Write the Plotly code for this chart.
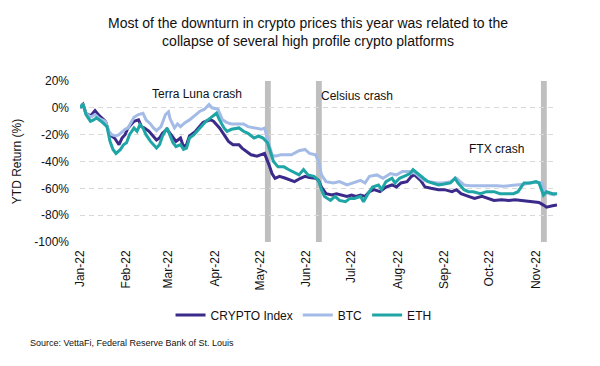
import pandas as pd
import plotly.graph_objects as go

start = pd.Timestamp("2022-01-01")

# Day offsets from 1 Jan 2022 and YTD return (%)
btc_days = [0, 2, 4, 7, 10, 13, 17, 19, 21, 24, 26, 30, 32, 36, 39, 42, 44, 47, 49, 51, 54, 57, 59, 60, 63, 65, 67, 70, 73, 77, 80, 83, 86, 88, 90, 92, 95, 98, 101, 106, 109, 112, 117, 121, 123, 126, 128, 130, 134, 141, 146, 150, 153, 157, 159, 161, 164, 169, 173, 178, 182, 187, 190, 193, 198, 202, 207, 211, 215, 220, 224, 229, 233, 238, 242, 247, 251, 256, 260, 264, 269, 273, 278, 282, 287, 291, 296, 300, 304, 308, 310, 313, 317]
btc_vals = [0, 2, -4, -7, -5, -8, -10, -17, -20, -21, -20, -16, -15, -7, -5, -4, -9, -12, -15, -17, -14, -5, -3, -8, -15, -12, -14, -11, -9, -5, -2.5, -1, 2.5, 0, -0.5, -1, -9, -11, -12, -12, -12, -14, -15, -16, -15, -26, -35, -36, -35, -35, -32, -31, -34, -35, -40, -50, -55, -56, -55, -57.5, -56, -54, -56, -51, -50, -52.5, -49, -50, -47.5, -47.5, -49, -54, -55, -56, -56, -55, -52.5, -57.5, -58, -58, -57.5, -58, -58, -58.5, -58, -57.5, -57, -56, -55.5, -56, -62.5, -64, -65]

eth_days = [0, 2, 4, 7, 9, 11, 14, 18, 20, 22, 24, 27, 29, 31, 33, 36, 38, 40, 42, 44, 47, 49, 51, 53, 55, 58, 60, 62, 64, 67, 69, 71, 73, 76, 78, 80, 82, 84, 87, 89, 91, 93, 96, 98, 101, 106, 109, 112, 116, 119, 122, 125, 127, 129, 132, 136, 139, 142, 146, 149, 152, 156, 159, 161, 163, 167, 170, 173, 177, 180, 183, 187, 189, 192, 195, 199, 201, 204, 208, 210, 213, 216, 220, 222, 225, 229, 232, 235, 239, 242, 247, 250, 252, 256, 259, 262, 267, 271, 276, 280, 284, 289, 292, 296, 300, 304, 306, 309, 311, 315, 318]
eth_vals = [0, 3, -5, -10, -9, -7.5, -10, -14, -25, -31, -34, -31, -27.5, -26, -20, -15, -17.5, -12.5, -15, -20, -25, -27.5, -30, -27.5, -21, -15, -20, -26, -29, -27.5, -31, -30, -22.5, -20, -17.5, -15, -12.5, -10, -7.5, -6, -4, -9, -15, -17.5, -16, -15, -17.5, -19, -22.5, -21, -22.5, -26, -34, -40, -44, -44, -46, -47.5, -50, -46, -50, -51, -54, -61, -66, -69, -66, -69, -70, -67.5, -67.5, -66, -70, -64, -59, -57.5, -61, -55, -52.5, -56, -52.5, -51, -49, -46, -49, -52.5, -55, -56, -57.5, -57, -56, -52.5, -56, -61, -62.5, -62.5, -64, -62.5, -62.5, -64, -64, -64, -62.5, -56, -56, -55, -56, -65, -62.5, -64, -64]

crypto_days = [0, 2, 4, 7, 10, 13, 17, 19, 21, 23, 26, 28, 30, 32, 36, 39, 41, 43, 46, 49, 51, 53, 55, 58, 61, 64, 67, 69, 71, 73, 77, 80, 82, 84, 87, 89, 91, 93, 96, 99, 102, 106, 108, 111, 114, 118, 121, 123, 126, 128, 130, 133, 137, 140, 143, 147, 150, 153, 157, 159, 161, 164, 168, 171, 175, 178, 181, 184, 187, 190, 193, 196, 200, 204, 208, 211, 214, 218, 221, 223, 227, 230, 234, 239, 243, 248, 251, 254, 259, 263, 268, 272, 276, 281, 286, 290, 294, 299, 302, 306, 309, 311, 315, 318]
crypto_vals = [0, 2.5, -4, -6, -2, -6, -10, -17.5, -21, -22.5, -27.5, -22.5, -20, -15, -10, -9, -14, -15, -17.5, -21, -24, -22.5, -19, -16, -21, -25, -22.5, -29, -27.5, -21, -17.5, -14, -11, -10, -9, -10, -12.5, -15, -20, -25, -27.5, -27.5, -30, -32.5, -35, -36, -35, -34, -42.5, -49, -52.5, -51, -52.5, -54, -55, -52.5, -51, -52, -52.5, -54, -59, -64, -65, -64, -65, -66, -65, -66, -65, -66, -62.5, -61, -62.5, -59, -57.5, -59, -56, -55, -51, -50, -54, -59, -60, -61, -61, -62.5, -61, -64, -66, -67.5, -66, -67.5, -69, -68.5, -69, -68.5, -69, -69.5, -70, -70.5, -72.5, -74, -73, -72.5]

# Crash event bands (day offsets) and labels
event_starts = [123.3, 157.3, 307.3]
event_ends = [127.2, 161.2, 311.2]
event_labels = ["Terra Luna crash", "Celsius crash", "FTX crash"]
label_days = [46.5, 159.5, 258]
label_vals = [10, 9, -31]

tick_days = [0, 31, 59, 90, 120, 151, 181, 212, 243, 273, 304]
y_ticks = [20, 0, -20, -40, -60, -80, -100]
y_tick_text = ["20%", "0%", "-20%", "-40%", "-60%", "-80%", "-100%"]


def to_dates(days):
    return [start + pd.Timedelta(days=d) for d in days]


fig = go.Figure()

for s, e in zip(event_starts, event_ends):
    fig.add_shape(type="rect", xref="x", yref="y",
                  x0=to_dates([s])[0], x1=to_dates([e])[0], y0=-100, y1=20,
                  fillcolor="#bfbfbf", line=dict(width=0), layer="below")

series = [
    ("CRYPTO Index", crypto_days, crypto_vals, "#3b2a8a"),
    ("BTC", btc_days, btc_vals, "#a3bbe6"),
    ("ETH", eth_days, eth_vals, "#1fa5a5"),
]
for name, days, vals, color in series:
    fig.add_trace(go.Scatter(x=to_dates(days), y=vals, mode="lines", name=name,
                             line=dict(color=color, width=3)))

for lab, d, v in zip(event_labels, label_days, label_vals):
    fig.add_annotation(x=to_dates([d])[0], y=v, text=lab, showarrow=False,
                       xanchor="left", yanchor="middle",
                       font=dict(size=12, color="#111111"))

fig.add_annotation(xref="paper", yref="paper", x=-0.109, y=-0.627,
                   xanchor="left", yanchor="middle", showarrow=False,
                   text="Source: VettaFi, Federal Reserve Bank of St. Louis",
                   font=dict(size=9, color="#111111"))

fig.update_layout(
    width=600, height=366,
    margin=dict(l=72, r=51, t=73, b=132, autoexpand=False),
    paper_bgcolor="white", plot_bgcolor="white",
    font=dict(family="Liberation Sans, Arial, sans-serif", color="#111111", size=12),
    title=dict(text="Most of the downturn in crypto prices this year was related to the<br>collapse of several high profile crypto platforms",
               x=0.5, xanchor="center", y=0.945, yanchor="top",
               font=dict(size=14, color="#111111")),
    showlegend=True,
    legend=dict(orientation="h", x=0.4686, xanchor="center", y=-0.453, yanchor="middle",
                font=dict(size=12), itemwidth=30, tracegroupgap=0),
)

fig.update_xaxes(
    range=[start, start + pd.Timedelta(days=318)],
    tickvals=to_dates(tick_days), tickformat="%b-%y", tickangle=-90,
    showgrid=False, showline=False, zeroline=False, ticks="",
    tickfont=dict(size=12), automargin=False, ticklabelstandoff=5,
)
fig.update_yaxes(
    range=[-100, 20], tickvals=y_ticks, ticktext=y_tick_text,
    showgrid=True, gridcolor="#d9d9d9", griddash="5px,4px", gridwidth=1,
    zeroline=False, showline=False, ticks="",
    title=dict(text="YTD Return (%)", font=dict(size=12), standoff=10),
    tickfont=dict(size=12), automargin=False, ticklabelstandoff=10,
)

fig.write_html("out.html")
